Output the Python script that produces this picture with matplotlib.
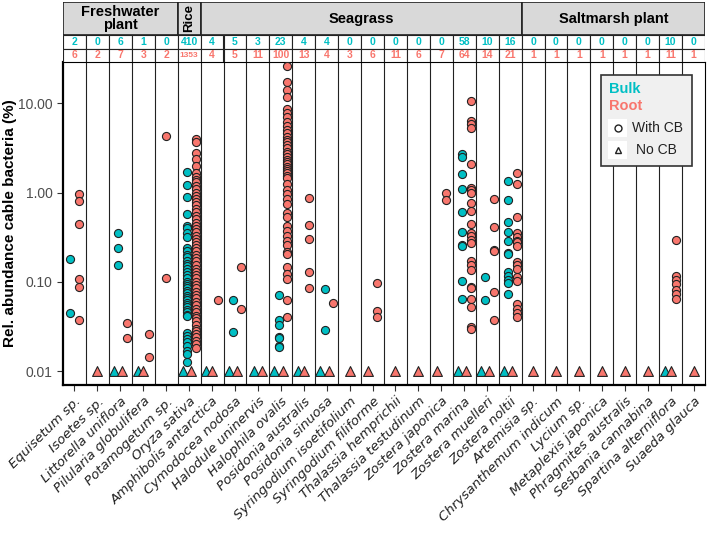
import numpy as np
import matplotlib.pyplot as plt
from matplotlib.patches import Rectangle
from matplotlib.lines import Line2D

plt.rcParams['font.family'] = ['Liberation Sans', 'DejaVu Sans']

# Input data.
species = ['Equisetum sp.', 'Isoetes sp.', 'Littorella uniflora', 'Pilularia globulifera', 'Potamogetum sp.',
           'Oryza sativa',
           'Amphibolis antarctica', 'Cymodocea nodosa', 'Halodule uninervis', 'Halophila ovalis',
           'Posidonia australis', 'Posidonia sinuosa', 'Syringodium isoetifolium', 'Syringodium filiforme',
           'Thalassia hemprichii', 'Thalassia testudinum', 'Zostera japonica', 'Zostera marina',
           'Zostera muelleri', 'Zostera noltii',
           'Artemisia sp.', 'Chrysanthemum indicum', 'Lycium sp.', 'Metaplexis japonica',
           'Phragmites australis', 'Sesbania cannabina', 'Spartina alterniflora', 'Suaeda glauca']
groups = ['Freshwater\nplant', 'Rice', 'Seagrass', 'Saltmarsh plant']
groupSize = [5, 1, 14, 8]
bulkN = [2, 0, 6, 1, 0, 410, 4, 5, 3, 23, 4, 4, 0, 0, 0, 0, 0, 58, 10, 16, 0, 0, 0, 0, 0, 0, 10, 0]
rootN = [6, 2, 7, 3, 2, 1353, 4, 5, 11, 100, 13, 4, 3, 6, 11, 6, 7, 64, 14, 21, 1, 1, 1, 1, 1, 1, 11, 1]

# Samples with cable bacteria (rel. abundance, %).
bulkCB = {
    'Equisetum sp.': [0.18, 0.045],
    'Littorella uniflora': [0.35, 0.242, 0.153],
    'Oryza sativa': [1.71, 1.23, 0.90, 0.58, 0.42, 0.40, 0.35, 0.32, 0.24, 0.22, 0.20, 0.19, 0.17, 0.16,
                     0.15, 0.14, 0.13, 0.12, 0.11, 0.10, 0.095, 0.09, 0.085, 0.08, 0.075, 0.07, 0.066,
                     0.062, 0.058, 0.055, 0.052, 0.049, 0.046, 0.043, 0.041, 0.027, 0.025, 0.023,
                     0.021, 0.019, 0.017, 0.0155, 0.0126],
    'Cymodocea nodosa': [0.062, 0.0273],
    'Halophila ovalis': [0.072, 0.037, 0.0325, 0.024, 0.0235, 0.019, 0.0188],
    'Posidonia sinuosa': [0.084, 0.0286],
    'Zostera marina': [2.70, 2.52, 1.61, 1.11, 0.61, 0.36, 0.26, 0.255, 0.101, 0.065],
    'Zostera muelleri': [0.113, 0.063],
    'Zostera noltii': [1.35, 0.82, 0.47, 0.36, 0.285, 0.21, 0.205, 0.129, 0.115, 0.106, 0.097, 0.074],
}
rootCB = {
    'Equisetum sp.': [0.96, 0.81, 0.44, 0.109, 0.0875, 0.0377],
    'Littorella uniflora': [0.0348, 0.0234],
    'Pilularia globulifera': [0.026, 0.0143],
    'Potamogetum sp.': [4.33, 0.111],
    'Oryza sativa': [3.94, 3.7, 2.75, 2.35, 1.98, 1.64, 1.5, 1.4, 1.3, 1.2, 1.1, 1.0, 0.92, 0.85, 0.78,
                     0.72, 0.66, 0.6, 0.55, 0.5, 0.46, 0.42, 0.39, 0.36, 0.33, 0.3, 0.28, 0.26, 0.24,
                     0.22, 0.2, 0.185, 0.17, 0.155, 0.14, 0.13, 0.12, 0.11, 0.1, 0.092, 0.085, 0.078,
                     0.072, 0.066, 0.06, 0.055, 0.05, 0.046, 0.042, 0.039, 0.036, 0.033, 0.03, 0.028,
                     0.026, 0.024, 0.022, 0.02, 0.018],
    'Amphibolis antarctica': [0.062],
    'Cymodocea nodosa': [0.147, 0.050],
    'Halophila ovalis': [26.2, 17.2, 14.1, 11.7, 8.6, 7.7, 7.0, 6.2, 5.6, 5.0, 4.6, 4.15, 3.9, 3.7, 3.4,
                         3.13, 2.87, 2.7, 2.52, 2.31, 2.2, 2.08, 1.95, 1.86, 1.75, 1.64, 1.53, 1.44,
                         1.25, 1.08, 0.96, 0.84, 0.74, 0.59, 0.53, 0.42, 0.37, 0.33, 0.29, 0.26, 0.216,
                         0.204, 0.147, 0.124, 0.109, 0.062, 0.040],
    'Posidonia australis': [0.88, 0.43, 0.30, 0.129, 0.086],
    'Posidonia sinuosa': [0.058],
    'Syringodium filiforme': [0.097, 0.047, 0.040],
    'Zostera japonica': [1.0, 0.82],
    'Zostera marina': [10.5, 6.3, 5.86, 5.3, 2.08, 1.14, 1.06, 0.99, 0.755, 0.62, 0.44, 0.353, 0.324,
                       0.298, 0.273, 0.17, 0.153, 0.135, 0.0875, 0.085, 0.065, 0.052, 0.031, 0.030],
    'Zostera muelleri': [0.84, 0.41, 0.226, 0.22, 0.078, 0.037],
    'Zostera noltii': [1.64, 1.24, 0.53, 0.35, 0.32, 0.29, 0.28, 0.25, 0.167, 0.153, 0.141, 0.113, 0.102,
                       0.057, 0.050, 0.0447, 0.040],
    'Spartina alterniflora': [0.298, 0.115, 0.104, 0.094, 0.082, 0.074, 0.065],
}
# Samples without cable bacteria (plotted at 0.01).
bulkNoCB = ['Littorella uniflora', 'Pilularia globulifera', 'Oryza sativa', 'Amphibolis antarctica',
            'Cymodocea nodosa', 'Halodule uninervis', 'Halophila ovalis', 'Posidonia australis',
            'Posidonia sinuosa', 'Zostera marina', 'Zostera muelleri', 'Zostera noltii',
            'Spartina alterniflora']
rootNoCB = ['Isoetes sp.', 'Littorella uniflora', 'Pilularia globulifera', 'Oryza sativa',
            'Amphibolis antarctica', 'Cymodocea nodosa', 'Halodule uninervis', 'Halophila ovalis',
            'Posidonia australis', 'Posidonia sinuosa', 'Syringodium isoetifolium', 'Syringodium filiforme',
            'Thalassia hemprichii', 'Thalassia testudinum', 'Zostera japonica', 'Zostera marina',
            'Zostera muelleri', 'Zostera noltii', 'Artemisia sp.', 'Chrysanthemum indicum', 'Lycium sp.',
            'Metaplexis japonica', 'Phragmites australis', 'Sesbania cannabina', 'Spartina alterniflora',
            'Suaeda glauca']
noCBLevel = 0.01

bulkCol = '#00BFC4'
rootCol = '#F8766D'

W, H = 709, 533
def box(x0, y0, x1, y1):
    return [x0/W, 1-y1/H, (x1-x0)/W, (y1-y0)/H]

fig = plt.figure(figsize=(W/100, H/100), dpi=100)
ax = fig.add_axes(box(63, 62, 705, 385))
hx = fig.add_axes(box(63, 2, 705, 62))

# Points, dodged like ggplot position_dodge(0.75).
nSp = len(species)
for i, sp in enumerate(species):
    present = []
    if sp in bulkNoCB: present.append((bulkCol, '^', [noCBLevel]))
    if sp in bulkCB: present.append((bulkCol, 'o', bulkCB[sp]))
    if sp in rootNoCB: present.append((rootCol, '^', [noCBLevel]))
    if sp in rootCB: present.append((rootCol, 'o', rootCB[sp]))
    n = len(present)
    for k, (c, m, vals) in enumerate(present):
        xo = i + ((k+0.5)/n - 0.5)*0.75
        ax.scatter(np.full(len(vals), xo), vals, s=34 if m == 'o' else 50, marker=m, c=c,
                   edgecolors='#222222', linewidths=0.8, zorder=3)

for i in range(nSp-1):
    ax.axvline(i+0.5, color='#222222', lw=0.8, zorder=1)
ax.set_xlim(-0.5, nSp-0.5)
ax.set_yscale('log')
ax.set_ylim(0.0070, 29)
ax.set_yticks([0.01, 0.1, 1, 10])
ax.set_yticklabels(['0.01', '0.10', '1.00', '10.00'], fontsize=10, color='#4D4D4D')
ax.minorticks_off()
ax.set_xticks(range(nSp))
ax.set_xticklabels(species, rotation=45, ha='right', rotation_mode='anchor', fontsize=9.6,
                   family='DejaVu Sans', style='italic', color='#222222')
ax.tick_params(axis='both', length=4, width=0.8, color='#333333')
ax.tick_params(axis='x', pad=3)
for s in ['left', 'bottom']:
    ax.spines[s].set_linewidth(1.6)
for s in ['right', 'top']:
    ax.spines[s].set_linewidth(0.8)
ax.set_ylabel('Rel. abundance cable bacteria (%)', fontsize=11, fontweight='bold')
ax.yaxis.set_label_coords((17-63)/642, 0.5)

# Header strips and sample counts.
hx.set_xlim(-0.5, nSp-0.5); hx.set_ylim(0, 60); hx.axis('off')
start = 0
for g, sz in zip(groups, groupSize):
    hx.add_patch(Rectangle((start-0.5, 27), sz, 33, fc='#D9D9D9', ec='#222222', lw=1.2))
    hx.text(start-0.5+sz/2, 43.5, g, ha='center', va='center', fontsize=9.5 if g == 'Rice' else 10.5,
            fontweight='bold', rotation=90 if g == 'Rice' else 0, linespacing=0.95)
    start += sz
for i in range(nSp):
    hx.add_patch(Rectangle((i-0.5, 13), 1, 14, fc='white', ec='#222222', lw=0.8))
    hx.add_patch(Rectangle((i-0.5, 0), 1, 13, fc='white', ec='#222222', lw=0.8))
    hx.text(i, 20, str(bulkN[i]), ha='center', va='center', fontsize=7.5 if bulkN[i] < 1000 else 6.5,
            fontweight='bold', color=bulkCol)
    hx.text(i, 6.5, str(rootN[i]), ha='center', va='center', fontsize=7.5 if rootN[i] < 1000 else 6.0,
            fontweight='bold', color=rootCol)

# Legend.
fig.patches.append(Rectangle((601/W, 1-166/H), 91/W, 91/H, transform=fig.transFigure,
                             fc='#F0F0F0', ec='#333333', lw=1.2))
fig.text(609/W, 1-89/H, 'Bulk', fontsize=10.5, fontweight='bold', color=bulkCol, va='center')
fig.text(609/W, 1-106/H, 'Root', fontsize=10.5, fontweight='bold', color=rootCol, va='center')
for yk, m, lab in [(128, 'o', 'With CB'), (150, '^', 'No CB')]:
    fig.patches.append(Rectangle((608/W, 1-(yk+9)/H), 19/W, 18/H, transform=fig.transFigure,
                                 fc='white', ec='none'))
    fig.lines.append(Line2D([617.5/W], [1-yk/H], transform=fig.transFigure, marker=m, ms=5,
                            mfc='none', mec='#222222', mew=1.0, ls='none'))
    fig.text(632/W if m == 'o' else 636/W, 1-yk/H, lab, fontsize=10, va='center', color='#222222')

fig.savefig('out.png', dpi=100)
